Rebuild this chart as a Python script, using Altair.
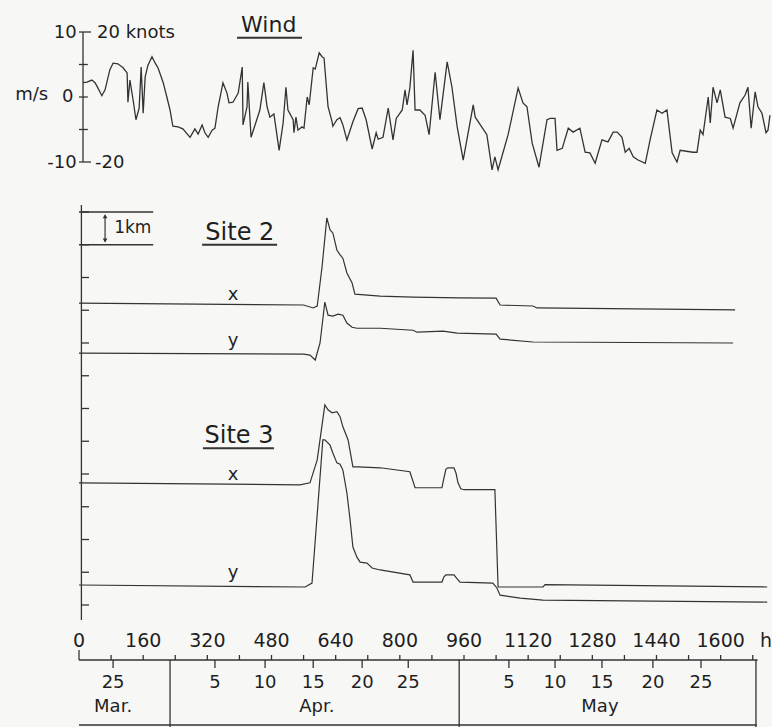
import altair as alt
import pandas as pd

# ------------------------------------------------------------------ data
# wind speed component (m/s) against elapsed time (h)
wind_hours = [10, 20, 32, 40, 47, 57, 65, 77, 85, 97,
              110, 120, 122, 127, 135, 142, 150, 155, 160, 165,
              172, 182, 190, 197, 210, 219, 227, 234, 247, 259,
              277, 289, 297, 307, 314, 322, 332, 339, 347, 359,
              369, 374, 384, 397, 407, 409, 419, 421, 429, 439,
              451, 461, 469, 476, 486, 499, 509, 516, 521, 534,
              536, 541, 546, 556, 561, 569, 574, 584, 589, 599,
              606, 611, 621, 631, 633, 643, 651, 658, 668, 683,
              696, 706, 716, 731, 741, 746, 758, 771, 783, 791,
              806, 813, 818, 825, 833, 838, 850, 863, 873, 888,
              900, 918, 930, 943, 958, 983, 988, 1017, 1030, 1037,
              1045, 1052, 1070, 1095, 1107, 1117, 1130, 1147, 1167, 1175,
              1187, 1192, 1205, 1220, 1232, 1249, 1262, 1274, 1287, 1304,
              1319, 1332, 1342, 1354, 1362, 1372, 1382, 1394, 1412, 1424,
              1441, 1454, 1466, 1479, 1491, 1499, 1531, 1541, 1549, 1556,
              1569, 1574, 1581, 1591, 1599, 1611, 1624, 1631, 1648, 1661,
              1668, 1676, 1686, 1693, 1703, 1713, 1718, 1723]
wind_ms = [2.2, 2.3, 2.6, 2.2, 1.4, 0.2, 1.1, 4.2, 5.2, 5.1,
           4.5, 3.7, -0.8, 2.6, -0.5, -3.5, -1.7, 4.6, -2.5, 3.1,
           4.9, 6.2, 5.2, 4.5, 2.2, 0.0, -2.0, -4.5, -4.6, -4.9,
           -6.2, -4.9, -5.7, -4.3, -5.5, -6.2, -5.1, -4.8, -1.5, 2.2,
           0.6, -0.9, -0.8, 0.6, 4.6, -4.3, -1.5, 2.3, -6.2, -4.3,
           -2.0, 2.2, -1.5, -3.1, -2.6, -8.2, -4.0, 1.5, -2.0, -3.5,
           -5.5, -3.1, -5.1, -4.6, -4.8, 0.0, -1.2, 4.5, 4.3, 6.8,
           6.2, 6.0, -1.5, -3.8, -4.5, -3.5, -3.2, -4.3, -6.6, -3.8,
           -1.8, -1.7, -3.5, -8.0, -5.5, -6.5, -6.2, -1.7, -6.6, -3.3,
           -2.0, 1.1, -1.2, 1.4, 7.2, -2.0, -2.0, -2.8, -5.8, 3.8,
           -3.5, 5.4, 1.5, -4.6, -9.7, -1.2, -3.1, -5.8, -11.2, -9.2,
           -11.2, -9.7, -5.8, 1.4, -0.9, -1.5, -7.1, -10.8, -3.5, -3.3,
           -3.3, -8.2, -7.9, -4.8, -5.4, -4.8, -8.5, -8.6, -10.2, -6.6,
           -6.9, -5.4, -5.4, -6.2, -8.5, -7.9, -9.2, -9.7, -10.2, -6.6,
           -2.0, -2.5, -2.0, -8.6, -10.0, -8.2, -8.5, -8.5, -5.1, -5.8,
           0.0, -4.0, 1.5, -0.9, 1.1, -3.1, -3.3, -4.8, -0.9, 0.3,
           1.5, -4.8, 0.8, -1.5, -2.5, -5.5, -5.1, -2.8]

# displacement (km) of the sites, relative to their start position
site2_x_hours = [0, 560, 584, 594, 606, 618, 626, 633, 643, 651, 658, 668, 681, 688,
                 751, 833, 950, 1040, 1050, 1132, 1142, 1636]
site2_x_km = [0, -0.06, -0.15, -0.09, 1.10, 2.60, 2.23, 2.14, 1.62, 1.47, 1.37, 0.92,
              0.61, 0.27, 0.21, 0.18, 0.16, 0.15, -0.06, -0.09, -0.15, -0.21]

site2_y_hours = [0, 560, 576, 589, 601, 613, 621, 633, 646, 658, 668, 681, 693, 751,
                 833, 843, 908, 943, 1040, 1050, 1132, 1631]
site2_y_km = [0, -0.03, -0.06, -0.21, 0.31, 1.56, 1.16, 1.13, 1.19, 1.16, 0.92, 0.79,
              0.76, 0.76, 0.70, 0.64, 0.67, 0.61, 0.58, 0.43, 0.34, 0.31]

site3_x_hours = [0, 551, 576, 594, 613, 621, 631, 643, 651, 658, 671, 683, 696, 751,
                 825, 838, 905, 910, 915, 920, 935, 940, 945, 952, 960, 1037, 1045,
                 1157, 1162, 1716]
site3_x_km = [0, -0.06, 0.0, 0.70, 2.38, 2.23, 2.14, 2.17, 2.02, 1.71, 1.31, 0.49,
              0.49, 0.46, 0.34, -0.15, -0.15, 0.15, 0.42, 0.46, 0.46, 0.30, 0.0,
              -0.18, -0.21, -0.21, -3.18, -3.18, -3.11, -3.18]

site3_y_hours = [0, 564, 581, 608, 613, 626, 633, 643, 651, 658, 668, 676, 683, 693,
                 701, 718, 731, 751, 825, 833, 905, 910, 915, 935, 942, 950, 1032,
                 1042, 1050, 1100, 1157, 1716]
site3_y_km = [0, -0.06, 0.06, 4.43, 4.43, 4.27, 4.03, 3.73, 3.69, 3.51, 2.81, 1.98,
              1.16, 0.85, 0.70, 0.67, 0.52, 0.46, 0.31, 0.09, 0.09, 0.25, 0.31, 0.31,
              0.20, 0.09, 0.06, -0.09, -0.31, -0.40, -0.46, -0.52]

# axis labels / ticks
hour_labels = [0, 160, 320, 480, 640, 800, 960, 1120, 1280, 1440, 1600]
hour_minor_ticks = [80, 160, 240, 320, 400, 480, 560, 640, 720, 800, 880, 960,
                    1040, 1120, 1200, 1280, 1360, 1440, 1520, 1600, 1680]
day_tick_hours = [85, 339, 464, 584, 706, 821, 1072, 1187, 1304, 1431, 1551]
day_labels = ["25", "5", "10", "15", "20", "25", "5", "10", "15", "20", "25"]
month_bound_hours = [227, 948, 1688]
month_names = ["Mar.", "Apr.", "May"]
month_label_hours = [85, 593, 1299]
wind_ticks = [10, 5, 0, -5, -10]
km_ticks = [0, 1, 2, 3, 4, 5, 6, 7, 8, 9, 10, 11, 12]

# ------------------------------------------------------------------ layout
FONT = "DejaVu Sans"
INK = "#1f1f1f"
LINE = "#333333"
BG = "#f7f8f6"
W, H, PAD_L = 693, 727, 79
X_MAX = 1728
KM0_PX, PX_PER_KM = 605.0, 32.75      # pixel row of 0 km, pixels per km
W0_PX, PX_PER_MS = 97.0, 6.5          # pixel row of 0 m/s, pixels per m/s
KM_DOMAIN = [(KM0_PX - H) / PX_PER_KM, KM0_PX / PX_PER_KM]
WIND_DOMAIN = [(W0_PX - H) / PX_PER_MS, W0_PX / PX_PER_MS]

trace_offsets = {"s2x": 9.22, "s2y": 7.69, "s3x": 3.73, "s3y": 0.61}

XS = alt.Scale(domain=[0, X_MAX], nice=False, zero=False)
KS = alt.Scale(domain=KM_DOMAIN, nice=False, zero=False)
WS = alt.Scale(domain=WIND_DOMAIN, nice=False, zero=False)


def xq(f):
    return alt.X(f, type="quantitative", scale=XS, axis=None)


def yq(f, s):
    return alt.Y(f, type="quantitative", scale=s, axis=None)


def texts(rows, s, align="center", size=18, baseline="middle"):
    df = pd.DataFrame(rows, columns=["t", "h", "v"])
    return alt.Chart(df).mark_text(
        align=align, baseline=baseline, fontSize=size, font=FONT, color=INK
    ).encode(x=xq("h"), y=yq("v", s), text="t:N")


def hrules(rows, s, width=1.3):
    df = pd.DataFrame(rows, columns=["h0", "h1", "v"])
    return alt.Chart(df).mark_rule(color=LINE, strokeWidth=width).encode(
        x=xq("h0"), x2="h1", y=yq("v", s))


def vrules(rows, s, width=1.3):
    df = pd.DataFrame(rows, columns=["h", "v0", "v1"])
    return alt.Chart(df).mark_rule(color=LINE, strokeWidth=width).encode(
        x=xq("h"), y=yq("v0", s), y2="v1")


layers = []

# ---------------- wind panel
wind_df = pd.DataFrame({"h": wind_hours, "v": wind_ms})
layers.append(alt.Chart(wind_df).mark_line(color=LINE, strokeWidth=1.3).encode(
    x=xq("h"), y=yq("v", WS)))
layers.append(vrules([(10, 10, -10)], WS))
layers.append(hrules([(0, 30 if abs(t) == 10 else 22, t) for t in wind_ticks], WS))
layers.append(texts([("10", -6, 9.85), ("0", -14, 0), ("-10", -6, -10.15)], WS, align="right"))
layers.append(texts([("m/s", -77, 0.3)], WS, align="right"))
layers.append(texts([("20 knots", 45, 9.85), ("-20", 40, -10.15)], WS, align="left"))
layers.append(texts([("Wind", 473, 10.0)], WS, size=22, baseline="alphabetic"))
layers.append(hrules([(394, 556, 9.12)], WS, width=2))

# ---------------- displacement panel
km_axis_top, km_axis_bot = 12.21, -0.46
layers.append(vrules([(6, km_axis_top, km_axis_bot)], KS))
layers.append(hrules([(6, 25, t) for t in km_ticks], KS))
# 1 km scale bracket
layers.append(hrules([(0, 185, 12), (0, 185, 11)], KS))
layers.append(vrules([(65, 11.9, 11.1)], KS, width=1.2))
arrow_df = pd.DataFrame({"h": [65, 65], "v": [11.87, 11.13], "s": ["triangle-up", "triangle-down"]})
layers.append(alt.Chart(arrow_df).mark_point(filled=True, size=22, color=LINE, opacity=1).encode(
    x=xq("h"), y=yq("v", KS),
    shape=alt.Shape("s:N", scale=alt.Scale(domain=["triangle-up", "triangle-down"],
                                            range=["triangle-up", "triangle-down"]), legend=None)))
layers.append(texts([("1km", 134, 11.5)], KS, size=17))

series = [("s2x", site2_x_hours, site2_x_km), ("s2y", site2_y_hours, site2_y_km),
          ("s3x", site3_x_hours, site3_x_km), ("s3y", site3_y_hours, site3_y_km)]
rows = []
for name, hs, ks in series:
    for h, k in zip(hs, ks):
        rows.append({"series": name, "h": h, "km": k + trace_offsets[name]})
traces = pd.DataFrame(rows)
layers.append(alt.Chart(traces).mark_line(color=LINE, strokeWidth=1.2).encode(
    x=xq("h"), y=yq("km", KS), detail="series:N"))

layers.append(texts([("x", 384, 9.31), ("y", 384, 7.91), ("x", 384, 3.82), ("y", 384, 0.82)],
                    KS, size=18, baseline="alphabetic"))
layers.append(texts([("Site 2", 401, 11.15), ("Site 3", 399, 4.95)], KS, size=24,
                    baseline="alphabetic"))
layers.append(hrules([(307, 494, 11.0), (309, 486, 4.79)], KS, width=2))

# ---------------- time axis
axis_v = (KM0_PX - 660) / PX_PER_KM
up_v = (KM0_PX - 655) / PX_PER_KM
corner_v = (KM0_PX - 650) / PX_PER_KM
down_v = (KM0_PX - 668) / PX_PER_KM
bottom_v = (KM0_PX - 725) / PX_PER_KM
edge_v = (KM0_PX - 727) / PX_PER_KM
hour_lab_v = (KM0_PX - 641) / PX_PER_KM
day_lab_v = (KM0_PX - 683) / PX_PER_KM
month_lab_v = (KM0_PX - 707) / PX_PER_KM

layers.append(hrules([(0, 1692, axis_v), (0, 1690, bottom_v)], KS))
layers.append(vrules([(h, axis_v, up_v) for h in hour_minor_ticks] + [(0, axis_v, corner_v)], KS))
layers.append(vrules([(h, axis_v, down_v) for h in day_tick_hours], KS))
layers.append(vrules([(h, axis_v, edge_v) for h in month_bound_hours], KS))
layers.append(texts([(str(h), h, hour_lab_v) for h in hour_labels] + [("h", 1713, hour_lab_v)],
                    KS, size=19))
layers.append(texts([(t, h, day_lab_v) for t, h in zip(day_labels, day_tick_hours)], KS, size=18))
layers.append(texts([(t, h, month_lab_v) for t, h in zip(month_names, month_label_hours)],
                    KS, size=18))

chart = alt.layer(*layers).resolve_scale(y="independent").properties(
    width=W, height=H,
    padding={"left": PAD_L, "top": 0, "right": 0, "bottom": 0},
    autosize=alt.AutoSizeParams(type="none"),
    background=BG,
).configure_view(stroke=None)

chart.save("out.html", embed_options={"renderer": "svg", "actions": False})
